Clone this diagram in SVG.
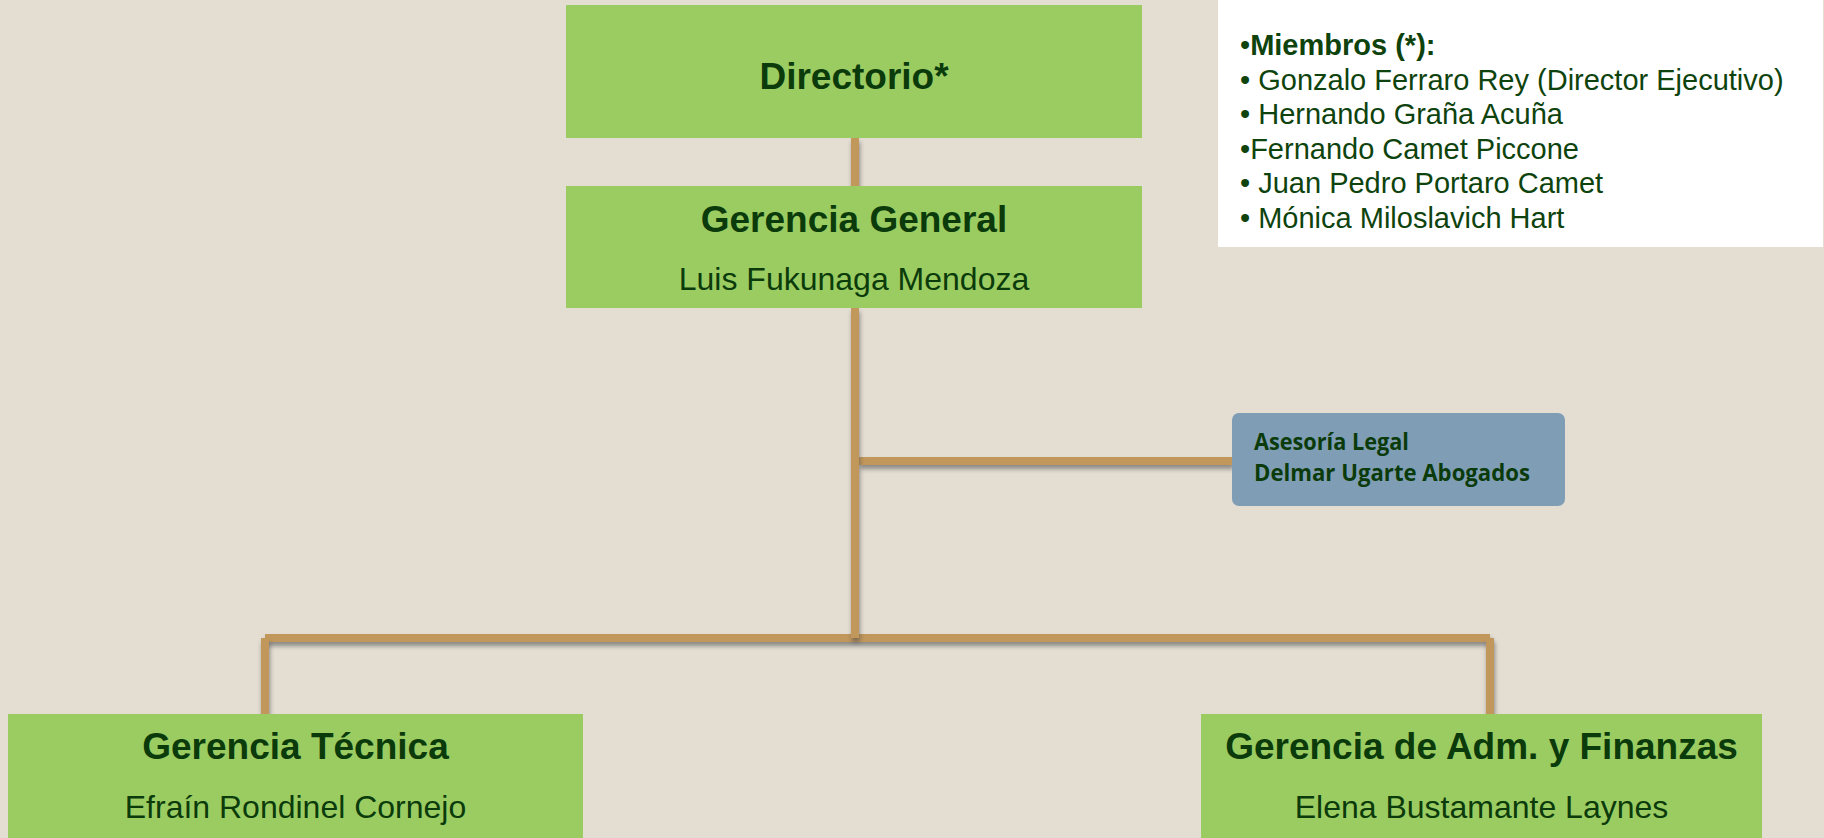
<svg xmlns="http://www.w3.org/2000/svg" width="1824" height="838" viewBox="0 0 1824 838">
  <defs>
    <filter id="sh" filterUnits="userSpaceOnUse" x="0" y="0" width="1824" height="838">
      <feDropShadow dx="1" dy="4" stdDeviation="2.2" flood-color="#4a4a4a" flood-opacity="0.55"/>
    </filter>
    <style>
      .box { fill: #9BCC62; }
      .conn { stroke: #C1975B; stroke-width: 8; fill: none; stroke-linecap: butt; }
      .h { font-family: "Liberation Sans", Arial, sans-serif; font-weight: bold; font-size: 37px; fill: #0B3B0B; text-anchor: middle; }
      .n { font-family: "Liberation Sans", Arial, sans-serif; font-size: 32px; fill: #0B3B0B; text-anchor: middle; }
      .m { font-family: "Liberation Sans", Arial, sans-serif; font-size: 29px; fill: #0E430E; }
      .a { font-family: "Open Sans", "Liberation Sans", sans-serif; font-weight: bold; font-size: 23px; fill: #0B3B0B; }
    </style>
  </defs>
  <rect x="0" y="0" width="1824" height="838" fill="#E3DDD2"/>

  <g id="connectors">
    <path class="conn" filter="url(#sh)" d="M855 138 V186"/>
    <path class="conn" filter="url(#sh)" d="M265 638 H1490"/>
    <path class="conn" filter="url(#sh)" d="M265 638 V714"/>
    <path class="conn" filter="url(#sh)" d="M1490 638 V714"/>
    <path class="conn" filter="url(#sh)" d="M859 461 H1233"/>
    <path class="conn" filter="url(#sh)" d="M855 308 V638"/>
  </g>

  <g id="directorio">
    <rect class="box" x="566" y="5" width="576" height="133"/>
    <text class="h" x="854" y="89">Directorio*</text>
  </g>

  <g id="gerencia-general">
    <rect class="box" x="566" y="186" width="576" height="122"/>
    <text class="h" x="854" y="232">Gerencia General</text>
    <text class="n" x="854" y="290">Luis Fukunaga Mendoza</text>
  </g>

  <g id="miembros">
    <rect x="1218" y="0" width="605" height="247" fill="#FFFFFF"/>
    <text class="m" x="1240" y="55">•<tspan font-weight="bold">Miembros (*):</tspan></text>
    <text class="m" x="1240" y="89.6">• Gonzalo Ferraro Rey (Director Ejecutivo)</text>
    <text class="m" x="1240" y="124.2">• Hernando Graña Acuña</text>
    <text class="m" x="1240" y="158.8">•Fernando Camet Piccone</text>
    <text class="m" x="1240" y="193.4">• Juan Pedro Portaro Camet</text>
    <text class="m" x="1240" y="228">• Mónica Miloslavich Hart</text>
  </g>

  <g id="asesoria-legal">
    <rect x="1232" y="413" width="333" height="93" rx="7" ry="7" fill="#7F9EB6"/>
    <text class="a" x="1254" y="450" textLength="155" lengthAdjust="spacingAndGlyphs">Asesoría Legal</text>
    <text class="a" x="1254" y="481" textLength="276" lengthAdjust="spacingAndGlyphs">Delmar Ugarte Abogados</text>
  </g>

  <g id="gerencia-tecnica">
    <rect class="box" x="8" y="714" width="575" height="124"/>
    <text class="h" x="295.5" y="759">Gerencia Técnica</text>
    <text class="n" x="295.5" y="818">Efraín Rondinel Cornejo</text>
  </g>

  <g id="gerencia-adm">
    <rect class="box" x="1201" y="714" width="561" height="124"/>
    <text class="h" x="1481.5" y="759">Gerencia de Adm. y Finanzas</text>
    <text class="n" x="1481.5" y="818">Elena Bustamante Laynes</text>
  </g>
</svg>
